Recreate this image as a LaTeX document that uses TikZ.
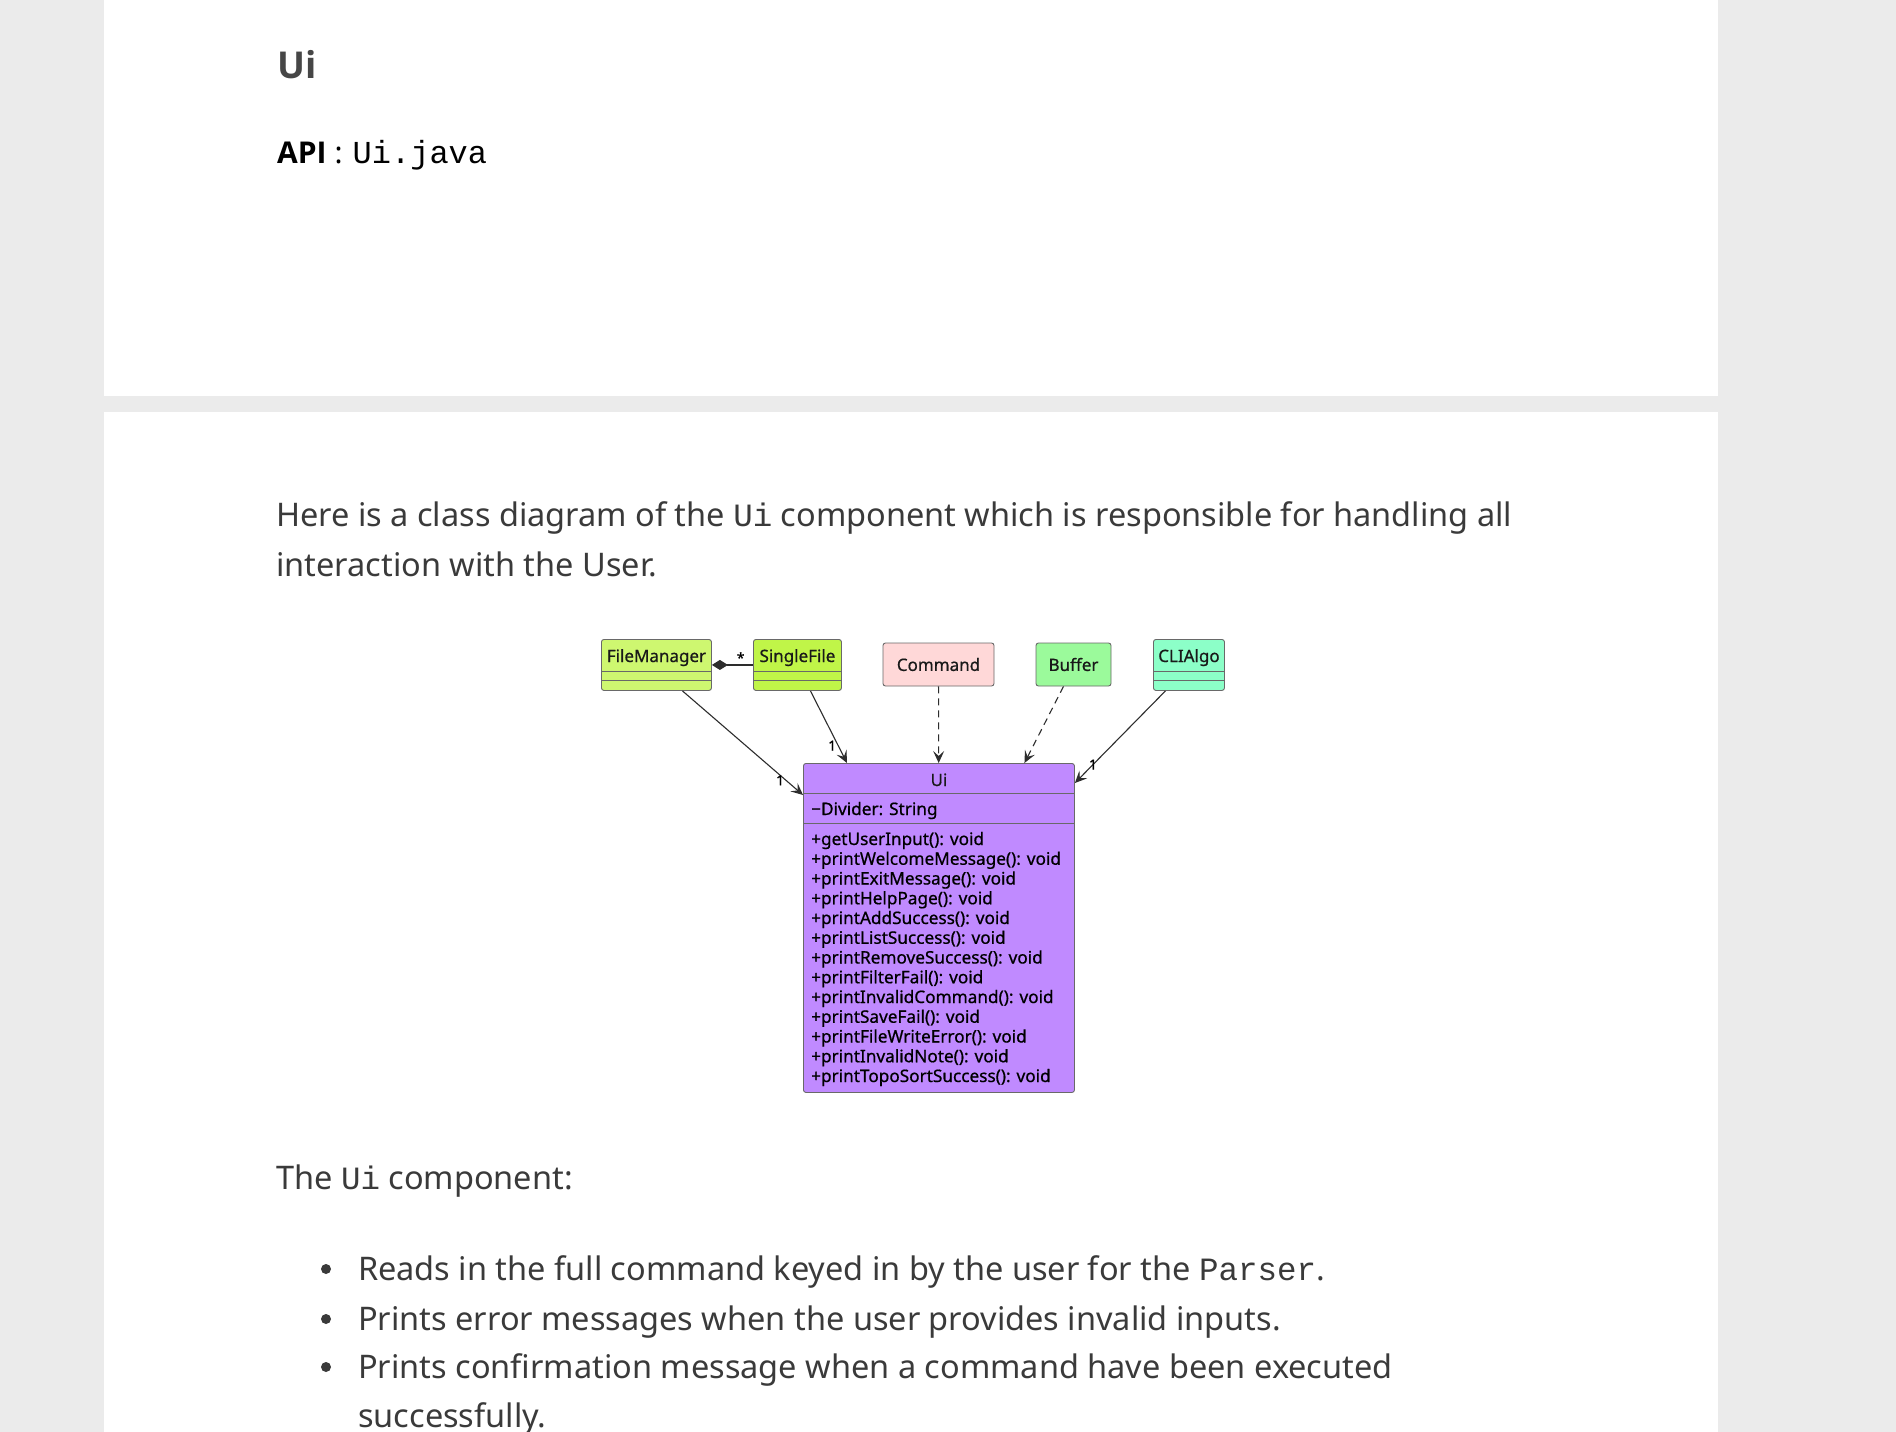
\documentclass[tikz,border=0pt]{standalone}
\usepackage{fontspec}
\setmainfont{Noto Sans}
\newfontfamily\headfont{Open Sans}
\newfontfamily\umlfont{Noto Sans}[FakeBold=0.7]
\newfontfamily\monofont{Liberation Mono}
\usetikzlibrary{arrows.meta}
\definecolor{pagegray}{RGB}{235,235,235}
\definecolor{bodytext}{RGB}{58,58,58}
\definecolor{headtext}{RGB}{70,70,70}
\definecolor{fmcol}{RGB}{206,247,112}
\definecolor{sfcol}{RGB}{192,245,72}
\definecolor{cmdcol}{RGB}{255,216,216}
\definecolor{bufcol}{RGB}{155,250,155}
\definecolor{clicol}{RGB}{140,255,200}
\definecolor{uicol}{RGB}{192,138,255}
\definecolor{boxline}{RGB}{105,105,105}
\definecolor{linkcol}{RGB}{45,45,45}
\newcommand\inlinecode[1]{{\monofont #1}}
\tikzset{
  cls/.style={draw=boxline,line width=0.9pt,rounded corners=2.5pt,inner sep=0pt},
  clsname/.style={font=\umlfont\fontsize{17}{20}\selectfont,text=black!90,inner sep=0pt},
  member/.style={font=\umlfont\fontsize{17.2}{20}\selectfont,inner sep=0pt},
  lbl/.style={font=\umlfont\fontsize{14}{16}\selectfont,inner sep=1.5pt},
  assoc/.style={draw=linkcol,line width=1.1pt,-{Stealth[length=12pt,width=11pt,inset=5pt]}},
  uses/.style={assoc,dash pattern=on 7pt off 5pt},
  comp/.style={draw=linkcol,line width=1.1pt,{Diamond[length=16pt,width=10pt]}-},
  body/.style={font=\fontsize{32.5}{38}\selectfont,text=bodytext,inner sep=0pt,anchor=base west}
}

\begin{document}
\begin{tikzpicture}[x=1pt,y=-1pt]
  \useasboundingbox (0,0) rectangle (1896,1432);
  \fill[pagegray] (0,0) rectangle (1896,1432);
  \fill[white] (104,0) rectangle (1718,396);
  \fill[white] (104,412) rectangle (1718,1432);

  \node[anchor=base west,inner sep=0pt,text=headtext,font=\headfont\fontsize{37}{40}\selectfont\bfseries] (title) at (277,78) {Ui};
  \node[anchor=base west,inner sep=0pt,font=\fontsize{30}{32}\selectfont] (api) at (277,163)
    {{\headfont\bfseries API}\hspace{8pt}:\hspace{10pt}{\monofont\fontsize{32}{32}\selectfont Ui.java}};

  \node[body] (intro1) at (276,526) {Here is a class diagram of the \inlinecode{Ui} component which is responsible for handling all};
  \node[body] (intro2) at (276,576) {interaction with the User.};

  \foreach \cname/\x/\w/\col in {FileManager/601/110/fmcol,SingleFile/753/88/sfcol,CLIAlgo/1153/71/clicol}{
    \node[cls,fill=\col,minimum width=\w pt,minimum height=51pt,anchor=north west] (\cname) at (\x,639) {};
    \node[clsname,anchor=base] (\cname-name) at ([yshift=-23pt]\cname.north) {\cname};
    \draw[boxline,line width=0.9pt] ([yshift=-32pt]\cname.north west) -- ([yshift=-32pt]\cname.north east)
      ([yshift=-41pt]\cname.north west) -- ([yshift=-41pt]\cname.north east);
  }
  \node[cls,fill=cmdcol,clsname,minimum width=111pt,minimum height=43pt] (Command) at (938.5,664.5) {Command};
  \node[cls,fill=bufcol,clsname,minimum width=75pt,minimum height=43pt] (Buffer) at (1073.5,664.5) {Buffer};

  \node[cls,fill=uicol,minimum width=271pt,minimum height=329pt,anchor=north west] (Ui) at (803,763) {};
  \node[clsname,anchor=base] (Ui-name) at ([yshift=-23pt]Ui.north) {Ui};
  \draw[boxline,line width=0.9pt] ([yshift=-30pt]Ui.north west) -- ([yshift=-30pt]Ui.north east)
    ([yshift=-60pt]Ui.north west) -- ([yshift=-60pt]Ui.north east);
  \node[member,anchor=base west] (Ui-attr) at (811,815) {−Divider: String};
  \foreach \m [count=\i from 0] in {getUserInput,printWelcomeMessage,printExitMessage,printHelpPage,
      printAddSuccess,printListSuccess,printRemoveSuccess,printFilterFail,printInvalidCommand,
      printSaveFail,printFileWriteError,printInvalidNote,printTopoSortSuccess}
    \node[member,anchor=base west] (Ui-m\i) at (811,845+19.75*\i) {+\m(): void};

  \draw[comp] (FileManager) -- node[lbl,pos=.7,above] {*} (SingleFile);
  \draw[assoc] ([xshift=26pt]FileManager.south) -- node[lbl,pos=.86,left] {1} ([yshift=-32pt]Ui.north west);
  \draw[assoc] ([xshift=13pt]SingleFile.south) -- node[lbl,pos=.76,left] {1} ([xshift=44pt]Ui.north west);
  \draw[uses] (Command) -- (Ui);
  \draw[uses] ([xshift=-10pt]Buffer.south) -- ([xshift=85.5pt]Ui.north);
  \draw[assoc] ([xshift=-23.5pt]CLIAlgo.south) -- node[lbl,pos=.8] {1} ([yshift=-20pt]Ui.north east);

  \node[body] (uicomp) at (276,1189) {The \inlinecode{Ui} component:};
  \node[body] (item1) at (358,1280) {Reads in the full command keyed in by the user for the \inlinecode{Parser}.};
  \node[body] (item2) at (358,1330) {Prints error messages when the user provides invalid inputs.};
  \node[body] (item3) at (358,1378) {Prints confirmation message when a command have been executed};
  \node[body] (item3b) at (358,1427) {successfully.};
  \foreach \item in {item1,item2,item3}
    \fill[bodytext] (\item.base west) ++(-32,-11) circle (5pt);
\end{tikzpicture}
\end{document}
